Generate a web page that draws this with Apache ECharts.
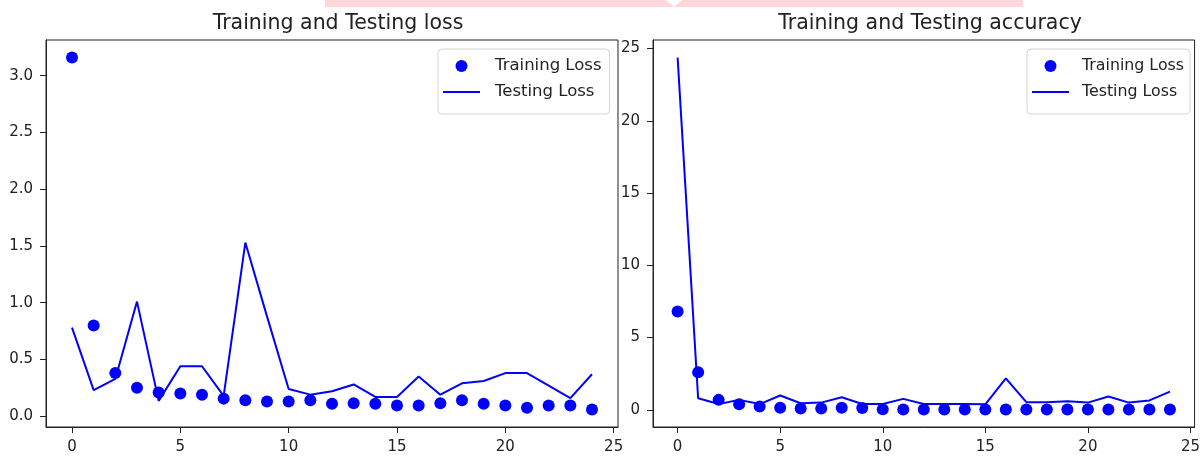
<!DOCTYPE html>
<html>
<head>
<meta charset="utf-8">
<script src="https://cdn.jsdelivr.net/npm/echarts@6/dist/echarts.min.js"></script>
<style>
html,body{margin:0;padding:0;background:#fff;}
#chart{width:1203px;height:457px;}
</style>
</head>
<body>
<div id="chart"></div>
<script>
// ---- data ----
const epochs = [0,1,2,3,4,5,6,7,8,9,10,11,12,13,14,15,16,17,18,19,20,21,22,23,24];
const lossTrain = [3.16,0.80,0.38,0.25,0.21,0.20,0.19,0.155,0.14,0.13,0.13,0.14,0.11,0.115,0.11,0.095,0.095,0.115,0.14,0.11,0.095,0.075,0.095,0.095,0.06];
const lossTest  = [0.78,0.23,0.33,1.01,0.135,0.44,0.44,0.18,1.53,0.88,0.24,0.19,0.22,0.28,0.17,0.17,0.35,0.19,0.29,0.31,0.38,0.38,0.27,0.16,0.37];
const accTrain  = [6.8,2.6,0.69,0.39,0.23,0.15,0.1,0.1,0.15,0.12,0.04,0.03,0.03,0.03,0.03,0.03,0.03,0.03,0.03,0.03,0.03,0.03,0.03,0.03,0.03];
const accTest   = [24.37,0.8,0.4,0.69,0.4,0.99,0.46,0.5,0.87,0.4,0.4,0.76,0.4,0.4,0.4,0.38,2.18,0.53,0.53,0.6,0.5,0.92,0.5,0.65,1.26];
const xTicks = [0,5,10,15,20,25];
const lossTicks = [0.0,0.5,1.0,1.5,2.0,2.5,3.0];
const accTicks = [0,5,10,15,20,25];
const titles = ['Training and Testing loss','Training and Testing accuracy'];
const seriesNames = ['Training Loss','Testing Loss'];

// ---- helpers ----
const BLUE = '#0000ff';
const FONT = 'DejaVu Sans';
const TXT = '#222';
function pairs(v){ return epochs.map((e,i)=>[e,v[i]]); }
function range(arrs){
  let lo=Infinity, hi=-Infinity;
  arrs.forEach(a=>a.forEach(v=>{lo=Math.min(lo,v);hi=Math.max(hi,v);}));
  const m=(hi-lo)*0.05; return [lo-m, hi+m];
}
const xr = range([epochs]);
const lr = range([lossTrain, lossTest]);
const ar = range([accTrain, accTest]);

function xAxis(idx){
  return {
    type:'value', gridIndex:idx, min:xr[0], max:xr[1],
    splitLine:{show:false},
    axisLine:{show:true, onZero:false, lineStyle:{color:TXT,width:1}},
    axisTick:{show:true, inside:false, length:6, lineStyle:{color:TXT}, customValues:xTicks},
    axisLabel:{customValues:xTicks, color:TXT, fontFamily:FONT, fontSize:15, margin:13,
      formatter:v=>String(v)}
  };
}
function yAxis(idx, r, ticks, fmt, margin){
  return {
    type:'value', gridIndex:idx, min:r[0], max:r[1],
    splitLine:{show:false},
    axisLine:{show:true, onZero:false, lineStyle:{color:TXT,width:1}},
    axisTick:{show:true, inside:false, length:6, lineStyle:{color:TXT}, customValues:ticks},
    axisLabel:{customValues:ticks, color:TXT, fontFamily:FONT, fontSize:15, margin:margin, formatter:fmt}
  };
}
const LINE_ICON = 'path://M0,0 L37,0 L37,2.2 L0,2.2 Z';
function legend(left, fontSize, textPad, padRight){
  return {
    data:[{name:seriesNames[0], icon:'circle'}, {name:seriesNames[1], icon:LINE_ICON}],
    orient:'vertical', left:left, top:49,
    itemWidth:37, itemHeight:12, itemGap:6,
    padding:[7,padRight,12,5],
    backgroundColor:'#fff', borderColor:'#d4d4d4', borderWidth:1, borderRadius:4,
    selectedMode:false,
    textStyle:{fontFamily:FONT, fontSize:fontSize, color:TXT, lineHeight:20, padding:[0,0,0,textPad]}
  };
}

const chart = echarts.init(document.getElementById('chart'), null, {renderer:'canvas'});
chart.setOption({
  animation:false,
  backgroundColor:'#fff',
  title:[
    {text:titles[0], left:333, top:8, textAlign:'center', textStyle:{fontFamily:FONT, fontSize:20.5, fontWeight:'normal', color:TXT}},
    {text:titles[1], left:925, top:8, textAlign:'center', textStyle:{fontFamily:FONT, fontSize:20.5, fontWeight:'normal', color:TXT}}
  ],
  grid:[
    {left:46, right:1203-618, top:40, bottom:457-427, show:true, borderColor:TXT, borderWidth:1, backgroundColor:'transparent'},
    {left:653, right:1203-1198, top:40, bottom:457-427, show:true, borderColor:TXT, borderWidth:1, backgroundColor:'transparent'}
  ],
  legend:[legend(438, 16.5, 10, 8), legend(1027, 15.8, 8, 6)],
  xAxis:[xAxis(0), xAxis(1)],
  yAxis:[
    yAxis(0, lr, lossTicks, v=>v.toFixed(1), 13),
    yAxis(1, ar, accTicks, v=>String(Math.round(v)), 13)
  ],
  series:[
    {name:seriesNames[0], type:'scatter', xAxisIndex:0, yAxisIndex:0, data:pairs(lossTrain), symbol:'circle', symbolSize:12, itemStyle:{color:BLUE, opacity:1}},
    {name:seriesNames[1], type:'line', xAxisIndex:0, yAxisIndex:0, data:pairs(lossTest), symbol:'none', lineStyle:{color:BLUE, width:2}, itemStyle:{color:BLUE}},
    {name:seriesNames[0], type:'scatter', xAxisIndex:1, yAxisIndex:1, data:pairs(accTrain), symbol:'circle', symbolSize:12, itemStyle:{color:BLUE, opacity:1}},
    {name:seriesNames[1], type:'line', xAxisIndex:1, yAxisIndex:1, data:pairs(accTest), symbol:'none', lineStyle:{color:BLUE, width:2}, itemStyle:{color:BLUE}}
  ],
  graphic:[
    {type:'polygon', silent:true, z:100,
     shape:{points:[[325,0],[666,0],[674,7],[682,0],[1023,0],[1023,7],[325,7]]},
     style:{fill:'#ffd6da'}}
  ]
});
</script>
</body>
</html>
